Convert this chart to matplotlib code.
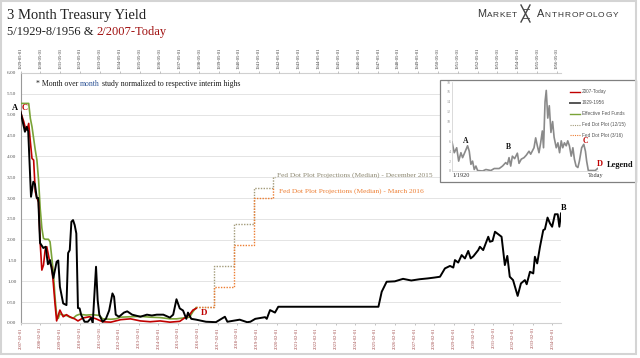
import matplotlib.pyplot as plt
from matplotlib.patches import Rectangle
from matplotlib.lines import Line2D

plt.rcParams['font.family'] = ['Liberation Serif', 'DejaVu Serif']

# 1929-1956 3 month yield (month index from 1929-05, normalised)
black_m = [0, 2.7, 3.8, 4.7, 6.4, 7.8, 8.8, 9.9, 10.8, 11.9, 13.9, 15.3, 16.7, 18, 20, 22, 23, 24,
           26, 28, 29, 30, 31, 32, 33, 34, 35, 36, 37, 39, 41, 43, 44, 46, 47, 48, 50, 52, 54, 56,
           57, 58, 60, 63, 65, 68, 73, 77, 80, 83, 87, 91, 93, 95, 97, 99, 101, 102, 104, 107, 113,
           119, 124.5, 126, 133.5, 138, 140, 143, 149, 150, 152, 155, 157, 218, 220, 223, 228, 233,
           238, 243, 248, 252, 255.5, 258.5, 261.6, 263.6, 264.6, 266.6, 268.7, 270.7, 272.7, 274.2,
           275.8, 278.8, 279.8, 281.8, 284.9, 285.9, 287.5, 289, 291, 293, 295, 296.5, 298, 300,
           302.8, 304.8, 307.2, 308.3, 310.3, 312.3, 313.3, 314.7, 316.4, 318.4, 319.4, 321, 322.5,
           323.8, 325.5, 327.2, 328.2, 329.2]
black_v = [5.07, 4.59, 4.71, 4.6, 3.03, 3.39, 3.33, 3.0, 3.0, 1.92, 1.8, 1.83, 1.41, 1.51, 1.08,
           1.47, 1.5, 0.87, 0.47, 0.43, 1.68, 1.75, 2.43, 2.47, 2.35, 2.15, 0.36, 0.35, 0.19, 0.03,
           0.03, 0.12, 0.0, 1.35, 0.55, 0.2, 0.03, 0.1, 0.3, 0.71, 0.63, 0.2, 0.15, 0.25, 0.28, 0.2,
           0.15, 0.2, 0.18, 0.2, 0.2, 0.13, 0.2, 0.57, 0.35, 0.3, 0.1, 0.25, 0.1, 0.08, 0.03, 0.02,
           0.15, 0.03, 0.08, 0.02, 0.03, 0.1, 0.14, 0.1, 0.31, 0.25, 0.39, 0.39, 0.75, 0.99, 1.0,
           1.06, 1.02, 1.05, 1.07, 1.09, 1.11, 1.31, 1.37, 1.33, 1.51, 1.45, 1.63, 1.55, 1.73, 1.55,
           1.6, 1.75, 1.83, 1.75, 2.07, 1.95, 1.97, 2.19, 2.13, 2.07, 1.39, 1.61, 1.11, 1.03, 0.65,
           0.95, 1.03, 0.93, 1.23, 1.19, 1.59, 1.43, 1.83, 2.23, 2.25, 2.53, 2.39, 2.31, 2.61, 2.61,
           2.31, 2.63]

# 2007-Today 3 month yield (month index from 2007-02)
red_m = [0, 1, 2, 3, 4, 5, 6, 7, 8, 9, 10, 11, 12, 13, 14, 15, 16, 17, 18, 19, 20, 21, 22, 23, 24,
         26, 28, 30, 33, 35, 38, 42, 46, 50, 55, 61, 67, 73, 79, 85, 91, 97, 101, 103, 105, 107]
red_v = [5.07, 4.95, 4.83, 4.67, 4.63, 4.79, 4.35, 3.95, 3.91, 3.15, 3.0, 2.9, 1.92, 1.27, 1.39,
         1.75, 1.83, 1.63, 1.43, 1.35, 0.95, 0.47, 0.05, 0.19, 0.31, 0.15, 0.2, 0.15, 0.1, 0.05,
         0.12, 0.15, 0.1, 0.03, 0.02, 0.08, 0.1, 0.05, 0.03, 0.05, 0.02, 0.04, 0.15, 0.2, 0.31, 0.35]

# Effective Fed Funds
green_m = [0, 5, 6, 7, 8, 9, 10, 11, 12, 13, 14, 15, 17, 18, 19, 20, 21, 22, 23, 24, 26, 28, 30,
           32, 34, 36, 40, 44, 46, 48, 50, 55, 58, 61, 67, 73, 79, 85, 91, 95, 99, 103, 105, 107]
green_v = [5.27, 5.27, 4.91, 4.71, 4.43, 4.15, 3.91, 3.43, 2.75, 2.28, 2.03, 2.01, 2.01, 1.95,
           1.59, 1.23, 0.63, 0.19, 0.11, 0.22, 0.19, 0.18, 0.14, 0.11, 0.18, 0.21, 0.19, 0.2, 0.19,
           0.18, 0.1, 0.09, 0.1, 0.14, 0.15, 0.16, 0.14, 0.13, 0.1, 0.1, 0.12, 0.14, 0.27, 0.37]

# Fed dot plot medians
dot_m = [107, 118, 130, 142, 154, 155]
dot_dec15 = [0.375, 1.375, 2.375, 3.25, 3.5, 3.5]
dot_mar16 = [0.375, 0.875, 1.875, 3.0, 3.25, 3.25]

bottom_labels = [f"{y}-02-01" for y in range(2007, 2035)]
top_labels = [f"{y}-05-01" for y in range(1929, 1957)]

# inset: longer history
inset_years = [1920, 1921.5, 1923.1, 1924.4, 1925.9, 1927, 1928.8, 1930.3, 1931.4, 1932.5, 1933.6,
               1934.7, 1935.8, 1936.9, 1940.2, 1942.4, 1945.7, 1947.9, 1951.2, 1953.4, 1955.5,
               1956.6, 1957.7, 1958.8, 1959.9, 1961.4, 1963.2, 1964.3, 1965.8, 1967.6, 1969.1,
               1970.9, 1972, 1974.2, 1975.3, 1976.4, 1977.5, 1978.6, 1979.7, 1980.5, 1981.5,
               1982.3, 1983.3, 1984.3, 1985.4, 1986.5, 1987.5, 1988.9, 1990, 1991.1, 1992.2,
               1993.2, 1994.3, 1995.5, 1996.5, 1997.6, 1998.8, 1999.9, 2000.9, 2002, 2003.2,
               2004.2, 2005.7, 2007.1, 2008.2, 2009, 2010.1, 2013, 2014.7, 2016.2]
inset_rates = [5.9, 3.7, 4.7, 2.0, 3.7, 2.7, 4.0, 5.1, 4.0, 1.35, 2.0, 0.3, 1.0, 0.1, 0.0, 0.3, 0.1,
               0.5, 0.5, 1.0, 1.7, 1.35, 2.7, 1.0, 3.0, 2.5, 3.6, 1.55, 2.4, 2.7, 3.2, 4.0, 3.4,
               4.7, 6.7, 5.1, 3.7, 5.7, 8.1, 4.7, 14.0, 16.3, 10.7, 13.2, 7.8, 10.0, 6.8, 4.7, 5.7,
               3.7, 6.1, 4.7, 5.7, 5.1, 6.1, 5.1, 3.0, 4.7, 2.4, 1.0, 0.7, 2.0, 4.7, 5.4, 4.0, 2.0,
               0.1, 0.1, 0.1, 0.5]

legend_names = ["2007-Today", "1929-1956", "Effective Fed Funds", "Fed Dot Plot (12/15)",
                "Fed Dot Plot (3/16)"]

RED = '#c00000'
GREEN = '#7aa337'
GREY_DOT = '#a39b7a'
ORANGE = '#ed7d31'

W, H = 640, 358
fig = plt.figure(figsize=(6.4, 3.58), dpi=100)
rend = fig.canvas.get_renderer()


def fx(px):
    return px / W


def fy(py):
    return 1 - py / H


def text_run(x, y, parts, track=0, **kw):
    # parts: (text, color, size); track = extra px between letters
    for s, c, size in parts:
        pieces = list(s) if track else [s]
        for p in pieces:
            t = fig.text(fx(x), fy(y), p, color=c, fontsize=size, **kw)
            x += t.get_window_extent(renderer=rend).width + track
    return x


ax = fig.add_axes([fx(20.5), fy(323), (561 - 20.5) / W, 250 / H])
ax.plot(green_m, green_v, color=GREEN, lw=1.2, zorder=3)
ax.plot(dot_m, dot_dec15, color=GREY_DOT, lw=1.0, ls=(0, (1, 1)), drawstyle='steps-post', zorder=3)
ax.plot(dot_m[:-1], dot_mar16[:-1], color=ORANGE, lw=1.0, ls=(0, (1, 1)), drawstyle='steps-post', zorder=3)
ax.plot(red_m, red_v, color=RED, lw=1.2, zorder=4)
ax.plot(black_m, black_v, color='black', lw=1.4, zorder=5)

ax.set_xlim(0, 329.2)
ax.set_ylim(0, 6)
yt = [i * 0.5 for i in range(13)]
ax.set_yticks(yt)
ax.set_yticklabels([f"{v:.2f}" for v in yt])
ax.yaxis.grid(True, color='#e4e4e4', lw=0.7)
ax.set_axisbelow(True)
ax.tick_params(axis='y', length=0, labelsize=3.8, labelcolor='#555', pad=3)
ax.set_xticks(range(0, 325, 12))
ax.set_xticklabels(bottom_labels, rotation=90, fontsize=3.3, color='#a04848')
ax.tick_params(axis='x', length=1.5, width=0.5, color='#aaa', pad=1.5)
ax.spines['right'].set_visible(False)
ax.spines['left'].set_color('#999')
ax.spines['left'].set_linewidth(0.8)
ax.spines['bottom'].set_color('#d0d0d0')
ax.spines['top'].set_color('#d0d0d0')

ax2 = ax.twiny()
ax2.set_xlim(0, 326.4)
ax2.set_xticks(range(0, 325, 12))
ax2.set_xticklabels(top_labels, rotation=90, fontsize=3.3, color='#333')
ax2.tick_params(axis='x', length=1.5, width=0.5, color='#aaa', pad=1.5)
for s in ax2.spines.values():
    s.set_visible(False)

# point letters
ax.text(-3.3, 5.16, "A", fontsize=6, fontweight='bold', ha='center', va='center', clip_on=False)
ax.text(2.7, 5.16, "C", fontsize=6, fontweight='bold', color=RED, ha='center', va='center', clip_on=False)
ax.text(111.8, 0.25, "D", fontsize=6.5, fontweight='bold', color=RED, ha='center', va='center')
ax.text(331, 2.77, "B", fontsize=6, fontweight='bold', ha='center', va='center', clip_on=False)

ax.text(156.4, 3.55, "Fed Dot Plot Projections (Median) - December 2015", color='#8c8770',
        fontsize=5.3, va='center')
ax.text(157.4, 3.17, "Fed Dot Plot Projections (Median) - March 2016", color=ORANGE,
        fontsize=5.3, va='center')

# titles
fig.text(fx(7), fy(18.5), "3 Month Treasury Yield", fontsize=10.5, color='#222')
text_run(7, 35, [("5/1929-8/1956 & ", '#222', 9), ("2/2007-Today", '#a01010', 9)])
text_run(36, 86.5, [("* Month over ", '#1a1a1a', 5.6), ("month", '#2f5597', 5.6),
                    (" study normalized to respective interim highs", '#1a1a1a', 5.6)])

# brand
sans = ['Liberation Sans', 'DejaVu Sans']
text_run(477, 17, [("M", '#333', 7.8), ("ARKET", '#333', 6.0)], track=0.6, family=sans)
text_run(536.5, 17, [("A", '#333', 7.8), ("NTHROPOLOGY", '#333', 6.0)], track=0.9, family=sans)
for xs in [((521, 530), (5, 22)), ((530, 521), (5, 22))]:
    fig.lines.append(Line2D([fx(xs[0][0]), fx(xs[0][1])], [fy(xs[1][0]), fy(xs[1][1])],
                            transform=fig.transFigure, color='#444', lw=1.0))
for ry in [9, 18]:
    fig.lines.append(Line2D([fx(522.5), fx(528.5)], [fy(ry), fy(ry)],
                            transform=fig.transFigure, color='#444', lw=0.6))

# inset
box = Rectangle((fx(440), fy(182)), 196 / W, 102 / H, transform=fig.transFigure,
                facecolor='white', edgecolor='#808080', lw=0.9, zorder=4)
fig.patches.append(box)
iax = fig.add_axes([fx(452), fy(171), 146 / W, 89 / H])
iax.set_zorder(5)
iax.patch.set_alpha(0)
iax.plot(inset_years, inset_rates, color='#8a8a8a', lw=1.2)
iax.set_xlim(1920, 2016.5)
iax.set_ylim(0, 18)
iax.set_yticks(range(0, 19, 2))
iax.tick_params(axis='y', length=0, labelsize=2.8, labelcolor='#888', pad=1)
iax.set_xticks([])
for s in ['top', 'right']:
    iax.spines[s].set_visible(False)
for s in ['left', 'bottom']:
    iax.spines[s].set_color('#cccccc')
    iax.spines[s].set_linewidth(0.5)


def ftext(px, py, s, **kw):
    t = fig.text(fx(px), fy(py), s, ha='center', va='center', **kw)
    t.set_zorder(6)


ftext(465.3, 141, "A", fontsize=5.5, fontweight='bold', color='#111')
ftext(508.7, 147, "B", fontsize=5.5, fontweight='bold', color='#111')
ftext(585, 141.5, "C", fontsize=5.5, fontweight='bold', color=RED)
ftext(600, 164.5, "D", fontsize=6, fontweight='bold', color=RED)
ftext(620, 165, "Legend", fontsize=6, fontweight='bold', color='#111')
ftext(596, 175.5, "Today", fontsize=4.5, color='#333')
ftext(461, 175.5, "1/1920", fontsize=4.5, color='#333')

leg_rows = [91.7, 102.7, 113.7, 124.7, 135.3]
leg_styles = [(RED, '-', 1.0), ('#555', '-', 1.4), (GREEN, '-', 1.0),
              (GREY_DOT, (0, (1, 1)), 0.8), (ORANGE, (0, (1, 1)), 0.8)]
for name, ry, (c, ls, lw) in zip(legend_names, leg_rows, leg_styles):
    ln = Line2D([fx(570), fx(580)], [fy(ry), fy(ry)], transform=fig.transFigure,
                color=c, ls=ls, lw=lw, zorder=6)
    fig.lines.append(ln)
    t = fig.text(fx(581.5), fy(ry), name, fontsize=3.4, color='#555', va='center',
                 family=['Liberation Sans', 'DejaVu Sans'])
    t.set_zorder(6)

# outer frame
fig.patches.append(Rectangle((fx(1), fy(354)), 635 / W, 353 / H, transform=fig.transFigure,
                             fill=False, edgecolor='#d4d4d4', lw=1.5, zorder=10))

fig.savefig("out.png", dpi=100)
